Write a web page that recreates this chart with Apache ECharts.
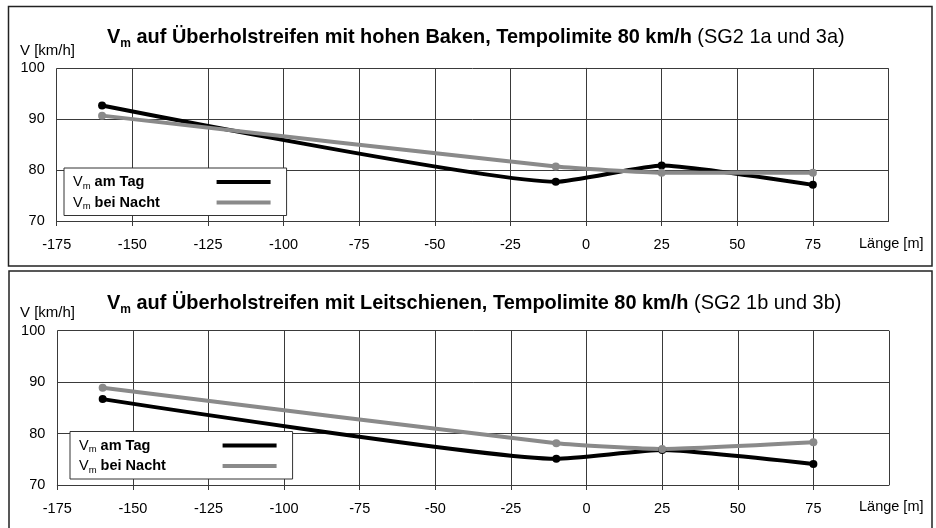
<!DOCTYPE html>
<html>
<head>
<meta charset="utf-8">
<script src="https://cdn.jsdelivr.net/npm/echarts@6/dist/echarts.min.js"></script>
<style>
html,body{margin:0;padding:0;background:#fff;}
#chart{width:936px;height:528px;}
</style>
</head>
<body>
<div id="chart"></div>
<script>
// ---- data ----
var xPositions = [-160, -10, 25, 75];
var topDay = [92.7, 77.7, 80.9, 77.1];
var topNight = [90.7, 80.7, 79.5, 79.5];
var bottomDay = [86.7, 75.1, 76.8, 74.1];
var bottomNight = [88.9, 78.1, 77.0, 78.3];
var seriesNames = ['V_m am Tag', 'V_m bei Nacht'];
var titleMain = ['auf Überholstreifen mit hohen Baken, Tempolimite 80 km/h', 'auf Überholstreifen mit Leitschienen, Tempolimite 80 km/h'];
var titleSuffix = ['(SG2 1a und 3a)', '(SG2 1b und 3b)'];
var yAxisLabel = 'V [km/h]';
var xAxisLabel = 'Länge [m]';

var FONT = '"Liberation Sans", Arial, sans-serif';
var DAY_COLOR = '#000000';
var NIGHT_COLOR = '#8a8a8a';
var GRID_COLOR = '#3a3a3a';
var TITLE_SIZE = 19.93;
var SMALL_SIZE = 14.5;

function pairs(xs, ys) { return xs.map(function (x, i) { return [x, ys[i]]; }); }

var measureCtx = document.createElement('canvas').getContext('2d');
function textWidth(str, weight, size) {
  measureCtx.font = weight + ' ' + size + 'px ' + FONT;
  return measureCtx.measureText(str).width;
}

var grids = [
  { left: 56.7, top: 68.3, width: 831.8, height: 152.7 },
  { left: 57.3, top: 330.7, width: 831.7, height: 154.3 }
];
var titleTops = [26, 291.5];
var legendTops = [168, 431.5];
var legendLefts = [64, 70];

function makeTitle(i) {
  return {
    left: 107, top: titleTops[i], padding: 0,
    text: '{v|V}{s|m}{b| ' + titleMain[i] + '}{n| ' + titleSuffix[i] + '}',
    textStyle: {
      fontFamily: FONT, fontSize: TITLE_SIZE, color: '#000', lineHeight: 24,
      rich: {
        v: { fontFamily: FONT, fontSize: TITLE_SIZE, fontWeight: 'bold', color: '#000', lineHeight: 24 },
        s: { fontFamily: FONT, fontSize: 12, fontWeight: 'bold', color: '#000', lineHeight: 12, verticalAlign: 'bottom' },
        b: { fontFamily: FONT, fontSize: TITLE_SIZE, fontWeight: 'bold', color: '#000', lineHeight: 24 },
        n: { fontFamily: FONT, fontSize: TITLE_SIZE, fontWeight: 'normal', color: '#000', lineHeight: 24 }
      }
    }
  };
}

// legend text block: fixed total width so the sample lines line up at the right
var LEGEND_BOLD_WIDTH = 121;
var legendRich = {
  v: { fontFamily: FONT, fontSize: SMALL_SIZE, fontWeight: 'normal', color: '#000', lineHeight: 18 },
  s: { fontFamily: FONT, fontSize: 9.5, fontWeight: 'normal', color: '#000', lineHeight: 10, verticalAlign: 'bottom' }
};
seriesNames.forEach(function (name, k) {
  var rest = ' ' + name.split('_m ')[1];
  var w = textWidth(rest, 'bold', SMALL_SIZE);
  legendRich['b' + k] = { fontFamily: FONT, fontSize: SMALL_SIZE, fontWeight: 'bold', color: '#000', lineHeight: 18,
    padding: [0, Math.max(0, LEGEND_BOLD_WIDTH - w), 0, 0] };
});

function makeLegend(i) {
  return {
    left: legendLefts[i], top: legendTops[i], orient: 'vertical', align: 'right',
    data: seriesNames, icon: 'rect', itemWidth: 54, itemHeight: 4, itemGap: 2.5,
    padding: [5, 16, 4, 9],
    backgroundColor: '#fff', borderColor: '#333', borderWidth: 1, borderRadius: 0,
    selectedMode: false,
    formatter: function (name) {
      var k = seriesNames.indexOf(name);
      var rest = name.split('_m ')[1];
      return '{v|V}{s|m}{b' + k + '| ' + rest + '}';
    },
    textStyle: {
      fontFamily: FONT, fontSize: SMALL_SIZE, color: '#000', lineHeight: 18,
      rich: legendRich
    }
  };
}

function makeX(i) {
  return {
    type: 'value', gridIndex: i, min: -175, max: 100, interval: 25,
    axisLine: { show: true, onZero: false, lineStyle: { color: GRID_COLOR, width: 1 } },
    axisTick: { show: true, length: 5, lineStyle: { color: GRID_COLOR } },
    splitLine: { show: true, lineStyle: { color: GRID_COLOR, width: 1 } },
    axisLabel: { showMaxLabel: false, margin: 16, fontFamily: FONT, fontSize: SMALL_SIZE, color: '#000' }
  };
}
function makeY(i) {
  return {
    type: 'value', gridIndex: i, min: 70, max: 100, interval: 10,
    axisLine: { show: true, lineStyle: { color: GRID_COLOR, width: 1 } },
    axisTick: { show: true, length: 5, lineStyle: { color: GRID_COLOR } },
    splitLine: { show: true, lineStyle: { color: GRID_COLOR, width: 1 } },
    axisLabel: { margin: 12, fontFamily: FONT, fontSize: SMALL_SIZE, color: '#000' }
  };
}
function makeSeries(i, name, data, color) {
  return {
    type: 'line', name: name, xAxisIndex: i, yAxisIndex: i,
    data: pairs(xPositions, data), smooth: 0.15,
    symbol: 'circle', symbolSize: 8, showSymbol: true,
    lineStyle: { color: color, width: 4 }, itemStyle: { color: color },
    emphasis: { disabled: true }, animation: false
  };
}

var axisNameTitles = [];
[[51, 244], [313, 507]].forEach(function (p) {
  axisNameTitles.push({ left: 20, top: p[0] - 9, padding: 0, text: yAxisLabel,
    textStyle: { fontFamily: FONT, fontSize: 15, fontWeight: 'normal', color: '#000', lineHeight: 18 } });
  axisNameTitles.push({ left: 859, top: p[1] - 9, padding: 0, text: xAxisLabel,
    textStyle: { fontFamily: FONT, fontSize: SMALL_SIZE, fontWeight: 'normal', color: '#000', lineHeight: 18 } });
});

var chart = echarts.init(document.getElementById('chart'), null, { renderer: 'canvas' });
chart.setOption({
  animation: false,
  backgroundColor: '#fff',
  title: [makeTitle(0), makeTitle(1)].concat(axisNameTitles),
  legend: [makeLegend(0), makeLegend(1)],
  grid: grids,
  xAxis: [makeX(0), makeX(1)],
  yAxis: [makeY(0), makeY(1)],
  series: [
    makeSeries(0, seriesNames[0], topDay, DAY_COLOR),
    makeSeries(0, seriesNames[1], topNight, NIGHT_COLOR),
    makeSeries(1, seriesNames[0], bottomDay, DAY_COLOR),
    makeSeries(1, seriesNames[1], bottomNight, NIGHT_COLOR)
  ],
  graphic: [
    { type: 'rect', shape: { x: 8.5, y: 6.5, width: 923.5, height: 259.5 }, style: { fill: null, stroke: '#222', lineWidth: 1.5 }, silent: true, z: 0 },
    { type: 'rect', shape: { x: 9, y: 271, width: 923, height: 262 }, style: { fill: null, stroke: '#222', lineWidth: 1.5 }, silent: true, z: 0 }
  ]
});
</script>
</body>
</html>
